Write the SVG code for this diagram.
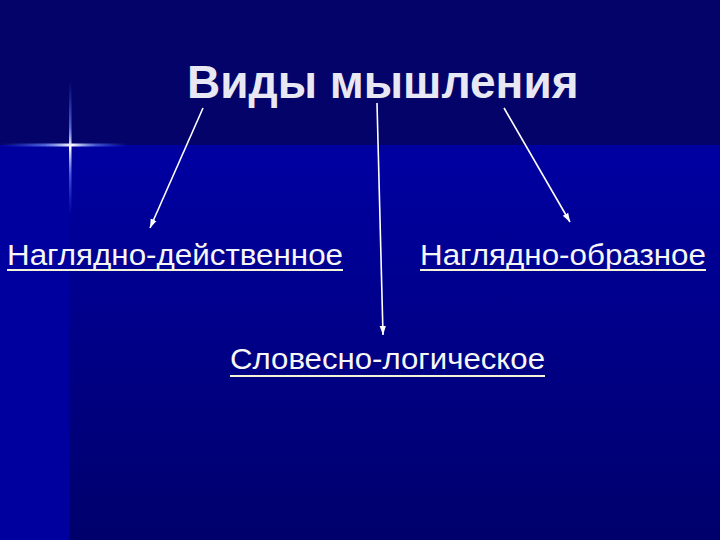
<svg xmlns="http://www.w3.org/2000/svg" width="720" height="540" viewBox="0 0 720 540">
  <defs>
    <linearGradient id="mainBg" x1="0" y1="0" x2="0" y2="1">
      <stop offset="0" stop-color="#0000A2"/>
      <stop offset="0.45" stop-color="#00008A"/>
      <stop offset="1" stop-color="#00006C"/>
    </linearGradient>
    <linearGradient id="hGlow" x1="0" y1="0" x2="1" y2="0">
      <stop offset="0" stop-color="#3A5CFF" stop-opacity="0"/>
      <stop offset="0.35" stop-color="#6F8CFF" stop-opacity="0.7"/>
      <stop offset="0.56" stop-color="#FFFFFF" stop-opacity="1"/>
      <stop offset="0.75" stop-color="#6F8CFF" stop-opacity="0.6"/>
      <stop offset="1" stop-color="#3A5CFF" stop-opacity="0"/>
    </linearGradient>
    <linearGradient id="vGlow" x1="0" y1="0" x2="0" y2="1">
      <stop offset="0" stop-color="#3A5CFF" stop-opacity="0"/>
      <stop offset="0.35" stop-color="#6F8CFF" stop-opacity="0.7"/>
      <stop offset="0.5" stop-color="#FFFFFF" stop-opacity="1"/>
      <stop offset="0.7" stop-color="#6F8CFF" stop-opacity="0.6"/>
      <stop offset="1" stop-color="#3A5CFF" stop-opacity="0"/>
    </linearGradient>
    <marker id="arrow" viewBox="0 0 10 10" refX="10" refY="5" markerWidth="9" markerHeight="9" markerUnits="userSpaceOnUse" orient="auto">
      <path d="M0,1.5 L10,5 L0,8.5 Z" fill="#FFFFFF"/>
    </marker>
  </defs>
  <style>
    .title { font-family: "Liberation Sans", Arial, sans-serif; font-weight: bold; font-size: 46px; fill: #E8E8F4; }
    .label { font-family: "Liberation Sans", Tahoma, sans-serif; font-size: 30px; fill: #F6F6F6; }
    .uline { stroke: #F4F4D8; stroke-width: 2; }
    .conn { stroke: #FFFFFF; stroke-width: 1.6; fill: none; marker-end: url(#arrow); }
  </style>

  <!-- background -->
  <rect x="0" y="0" width="720" height="540" fill="#020268"/>
  <rect x="0" y="145" width="720" height="395" fill="url(#mainBg)"/>
  <rect x="0" y="145" width="69" height="395" fill="#00009E"/>
  <rect x="0" y="0" width="720" height="145" fill="#030369"/>
  <!-- sparkle -->
  <rect x="0" y="143.5" width="128" height="3" fill="url(#hGlow)"/>
  <rect x="69" y="80" width="2.5" height="135" fill="url(#vGlow)"/>

  <g id="title">
    <text class="title" x="187" y="98">Виды мышления</text>
  </g>

  <g id="node-visual-action">
    <text class="label" x="7" y="265" textLength="336" lengthAdjust="spacingAndGlyphs">Наглядно-действенное</text>
    <line class="uline" x1="7" y1="270" x2="343" y2="270"/>
  </g>

  <g id="node-visual-figurative">
    <text class="label" x="420" y="265" textLength="286" lengthAdjust="spacingAndGlyphs">Наглядно-образное</text>
    <line class="uline" x1="420" y1="270" x2="706" y2="270"/>
  </g>

  <g id="node-verbal-logical">
    <text class="label" x="230" y="369" textLength="315" lengthAdjust="spacingAndGlyphs">Словесно-логическое</text>
    <line class="uline" x1="230" y1="376" x2="545" y2="376"/>
  </g>

  <g id="connectors">
    <line class="conn" x1="203" y1="108" x2="150" y2="228"/>
    <line class="conn" x1="377" y1="103" x2="383" y2="335"/>
    <line class="conn" x1="504" y1="108" x2="570" y2="222"/>
  </g>
</svg>
